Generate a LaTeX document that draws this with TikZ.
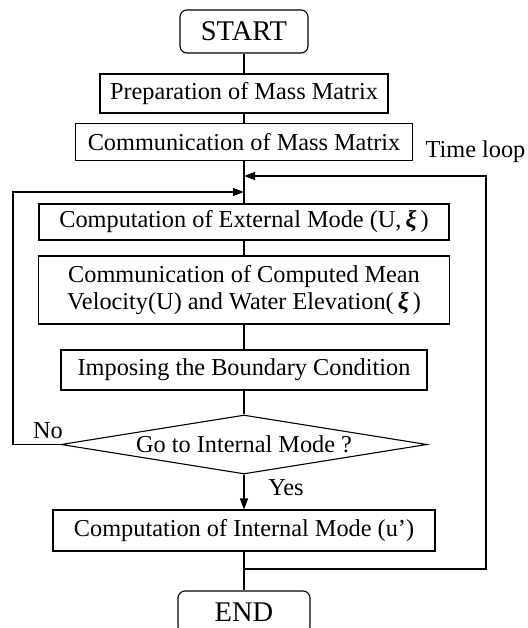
\documentclass[tikz,border=0pt]{standalone}
\usepackage{fontspec}
\setmainfont{Liberation Serif}
\usetikzlibrary{shapes.geometric,arrows.meta}

\newcommand{\bxi}{{\bfseries\itshape ξ}}

\begin{document}
\begin{tikzpicture}[x=1pt,y=-1pt,
  box/.style={draw, line width=1.1pt, inner sep=0pt, align=center,
              font=\fontsize{24.3}{27}\selectfont},
  term/.style={box, rounded corners=7pt, font=\fontsize{28.5}{30}\selectfont},
  decision/.style={box, diamond, aspect=6.2},
  link/.style={line width=1.1pt},
  arr/.style={link, -{Triangle[length=11pt,width=8pt]}},
  lbl/.style={inner sep=0pt, font=\fontsize{24.3}{27}\selectfont}]

\useasboundingbox (0,0) rectangle (527,628);

% main column
\node[term, minimum width=128pt, minimum height=43pt] (start) at (244,31.5) {START};
\node[box, minimum width=288pt, minimum height=39pt] (prep) at (244,93.5) {Preparation of Mass Matrix};
\node[box, minimum width=337pt, minimum height=37pt] (cmass) at (244,142) {Communication of Mass Matrix};
\node[box, minimum width=410pt, minimum height=36pt] (ext) at (244,222) {Computation of External Mode (U,\,\bxi\,)};
\node[box, minimum width=411pt, minimum height=68pt] (ccomp) at (244,290)
  {Communication of Computed Mean\\Velocity(U) and Water Elevation(\,\bxi\,)};
\node[box, minimum width=366pt, minimum height=40pt] (bc) at (244,370) {Imposing the Boundary Condition};
\node[decision, minimum width=366pt, minimum height=59pt] (dec) at (244,444.5) {Go to Internal Mode ?};
\node[box, minimum width=382pt, minimum height=41pt] (intm) at (244,530.5) {Computation of Internal Mode (u’)};
\node[term, minimum width=132pt, minimum height=43pt] (finish) at (244,612.5) {END};

% labels
\node[lbl] (nolbl) at (48,431) {No};
\node[lbl] (yeslbl) at (286,488) {Yes};
\node[lbl] (looplbl) at (475.5,152) {Time loop};

% junction points on the main column
\coordinate (noin) at (244,192);
\coordinate (loopin) at (244,176);
\coordinate (loopout) at (244,569);

% straight flow
\draw[link] (start) -- (prep);
\draw[link] (prep) -- (cmass);
\draw[link] (cmass) -- (ext);
\draw[link] (ext) -- (ccomp);
\draw[link] (ccomp) -- (bc);
\draw[link] (bc) -- (dec);
\draw[arr] (dec) -- (intm);
\draw[link] (intm) -- (finish);

% "No" branch back to the external mode
\draw[arr] (dec.west) -- (13,444.5) |- (noin);

% time loop
\draw[arr] (loopout) -- (486,569) |- (loopin);
\end{tikzpicture}
\end{document}
